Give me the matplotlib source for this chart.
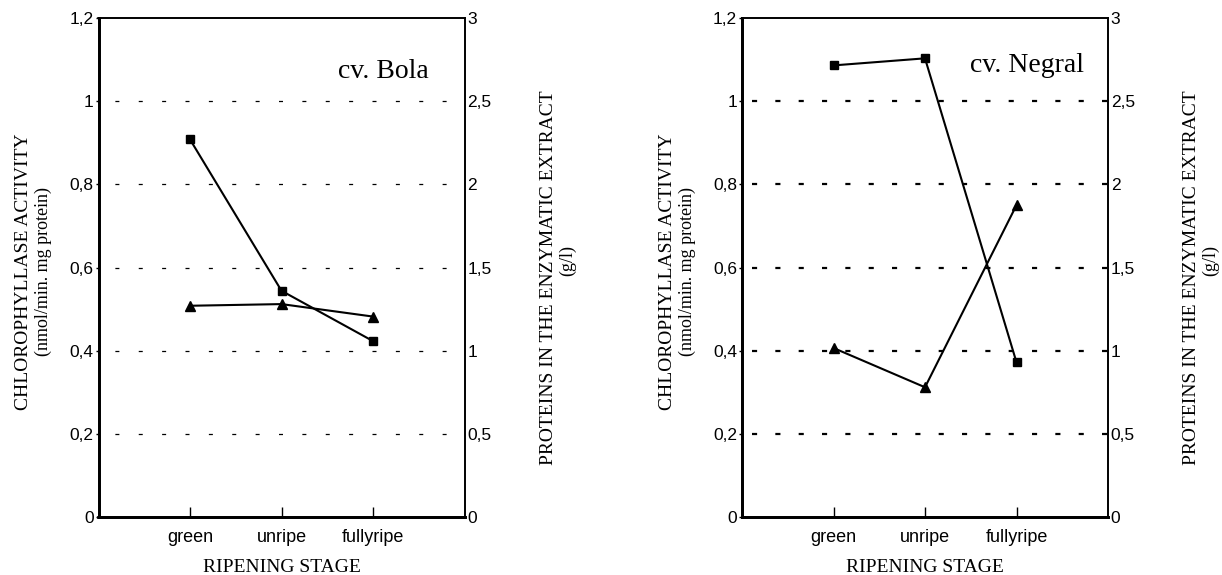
import matplotlib.pyplot as plt
from matplotlib.ticker import FixedLocator

# data
stages = ['green', 'unripe', 'fullyripe']
bola_chloro = [0.908, 0.544, 0.423]      # squares, left axis
bola_protein = [1.27, 1.28, 1.205]       # triangles, right axis (g/l)
negral_chloro = [1.086, 1.103, 0.372]
negral_protein = [1.016, 0.78, 1.875]

left_ticks = [0, 0.2, 0.4, 0.6, 0.8, 1.0, 1.2]
left_labels = ['0', '0,2', '0,4', '0,6', '0,8', '1', '1,2']
right_ticks = [0, 0.5, 1.0, 1.5, 2.0, 2.5, 3.0]
right_labels = ['0', '0,5', '1', '1,5', '2', '2,5', '3']

sans = 'Liberation Sans'
serif = 'Liberation Serif'
W, H = 1222, 575

fig = plt.figure(figsize=(12.22, 5.75), dpi=100)


def panel(xl, chloro, protein, title, title_pos, dash):
    aw = 366
    ax = fig.add_axes([xl / W, 1 - 517 / H, aw / W, 499 / H])
    xs = range(len(stages))
    ax.set_xlim(-1, 3)
    ax.set_ylim(0, 1.2)
    for g in left_ticks[1:-1]:
        ax.axhline(g, color='black', lw=dash[2], linestyle=(6, (dash[0], dash[1])), zorder=1)
    ax.plot(xs, chloro, color='black', lw=1.5, marker='s', ms=5.5, zorder=3)

    ax2 = ax.twinx()
    ax2.set_ylim(0, 3)
    ax2.plot(xs, protein, color='black', lw=1.5, marker='^', ms=7.5, zorder=3)

    ax.set_xticks(list(xs))
    ax.set_xticklabels(stages, fontfamily=sans, fontsize=13)
    ax.tick_params(axis='x', direction='in', length=7, width=1, pad=9)
    ax.yaxis.set_major_locator(FixedLocator(left_ticks))
    ax.set_yticklabels(left_labels, fontfamily=sans, fontsize=12.5)
    ax.tick_params(axis='y', length=2, width=1, pad=1.5)
    ax2.yaxis.set_major_locator(FixedLocator(right_ticks))
    ax2.set_yticklabels(right_labels, fontfamily=sans, fontsize=12.5)
    ax2.tick_params(axis='y', length=0, pad=2)

    for a in (ax, ax2):
        a.spines['left'].set_linewidth(2)
        a.spines['bottom'].set_linewidth(2)
        a.spines['top'].set_linewidth(1.2)
        a.spines['right'].set_linewidth(1.2)

    ax.text(title_pos[0], title_pos[1], title, transform=ax.transAxes, ha='right', va='center',
            fontfamily=serif, fontsize=20)

    # axis titles
    fig.text((xl + aw / 2) / W, 1 - 567 / H, 'RIPENING STAGE', ha='center', va='center',
             fontfamily=serif, fontsize=14)
    fig.text((xl - 75) / W, 1 - 272 / H, 'CHLOROPHYLLASE ACTIVITY', rotation=90,
             ha='center', va='center', fontfamily=serif, fontsize=14)
    fig.text((xl - 55) / W, 1 - 272 / H, '(nmol/min. mg protein)', rotation=90,
             ha='center', va='center', fontfamily=serif, fontsize=13)
    xr = xl + aw
    fig.text((xr + 84) / W, 1 - 278 / H, 'PROTEINS IN THE ENZYMATIC EXTRACT', rotation=90,
             ha='center', va='center', fontfamily=serif, fontsize=14)
    fig.text((xr + 103) / W, 1 - 261 / H, '(g/l)', rotation=90,
             ha='center', va='center', fontfamily=serif, fontsize=13)


panel(98.5, bola_chloro, bola_protein, 'cv. Bola', (0.903, 0.892), (3.2, 15.5, 0.9))
panel(742, negral_chloro, negral_protein, 'cv. Negral', (0.935, 0.905), (2.3, 8.2, 1.6))

plt.savefig('out.png', dpi=100)
